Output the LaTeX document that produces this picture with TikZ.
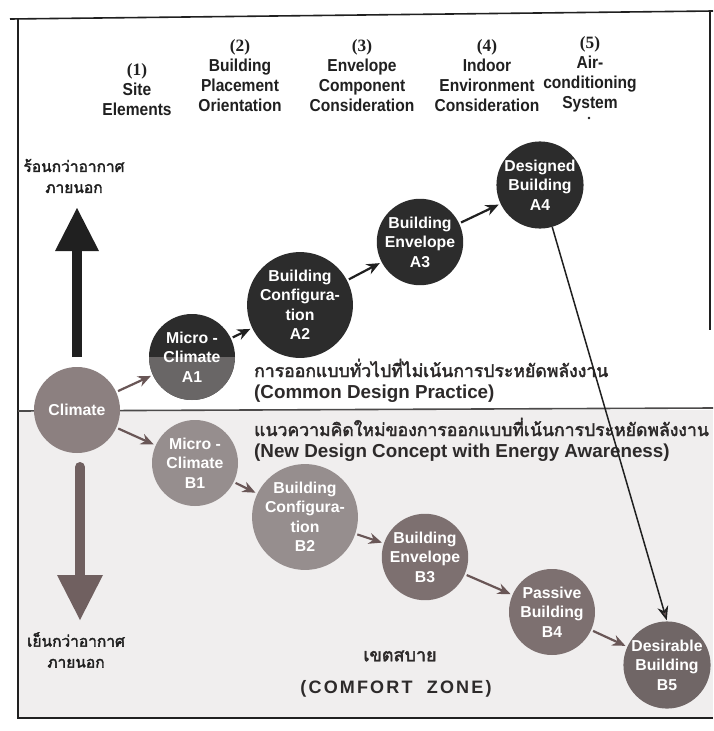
\documentclass[tikz,border=0pt]{standalone}
\usepackage{fontspec}
\setmainfont{Liberation Sans}
\newfontfamily\headfont[FakeStretch=0.9]{Liberation Sans}
\newfontfamily\numfont{Liberation Serif}
\newfontfamily\thaifont[Script=Thai, FakeBold=2.4]{Loma}
\newfontfamily\spacedfont[LetterSpace=12]{Liberation Sans}
\usetikzlibrary{arrows.meta}

\definecolor{inkdark}{RGB}{32,32,32}
\definecolor{ink}{RGB}{45,42,42}
\definecolor{abody}{RGB}{44,44,44}
\definecolor{alow}{RGB}{105,102,102}
\definecolor{climatec}{RGB}{140,128,128}
\definecolor{blight}{RGB}{150,142,142}
\definecolor{bmid}{RGB}{125,112,112}
\definecolor{bdark}{RGB}{112,102,102}
\definecolor{coldarrow}{RGB}{112,96,96}
\definecolor{barrow}{RGB}{105,86,86}
\definecolor{lowbg}{RGB}{240,238,238}

\tikzset{
  hdr/.style={align=center, inner sep=0pt, text=inkdark,
    font=\headfont\bfseries\fontsize{17.3}{20}\selectfont},
  thaitxt/.style={inner sep=0pt, text=ink, font=\thaifont\fontsize{17.6}{22}\selectfont},
  engtxt/.style={inner sep=0pt, text=ink, font=\bfseries\fontsize{18.8}{22}\selectfont},
  sidetxt/.style={align=center, inner sep=0pt, text=inkdark,
    font=\thaifont\fontsize{15.5}{21}\selectfont},
  bubble/.style={circle, minimum size=86pt, inner sep=0pt, align=center,
    text=white, font=\bfseries\fontsize{15.8}{19.5}\selectfont},
  flowA/.style={draw=inkdark, line width=2.2pt, shorten >=2pt, shorten <=2pt,
    -{Stealth[length=13pt,width=11pt]}},
  flowB/.style={draw=barrow, line width=2.2pt, shorten >=2pt, shorten <=2pt,
    -{Stealth[length=13pt,width=11pt]}},
  frame/.style={draw=inkdark, line width=1.6pt},
}

\begin{document}
\begin{tikzpicture}[x=1pt, y=-1pt]
\useasboundingbox (0,0) rectangle (713,731);
\fill[white] (0,0) rectangle (713,731);

% lower (energy-aware) half of the chart
\fill[lowbg] (18,410) rectangle (713,718);

% outer frame
\draw[frame] (10,19) -- (713,11);
\draw[frame] (18,19) -- (18,718) -- (713,718);
\draw[frame] (710,12) -- (710,330);

% dividing line between the two design approaches
\coordinate (divL) at (18,411);
\coordinate (divR) at (713,408);
\draw[draw=ink!85, line width=1.6pt] (divL) -- (divR);

% column headings
\node[hdr] (h1) at (137,90)  {{\numfont (1)}\\Site\\Elements};
\node[hdr] (h2) at (240,76)  {{\numfont (2)}\\Building\\Placement\\Orientation};
\node[hdr] (h3) at (362,76)  {{\numfont (3)}\\Envelope\\Component\\Consideration};
\node[hdr] (h4) at (487,76)  {{\numfont (4)}\\Indoor\\Environment\\Consideration};
\node[hdr] (h5) at (590,74)  {{\numfont (5)}\\Air-\\conditioning\\System};
\fill[inkdark] (589,118) circle (1.3pt);

% warmer / cooler than outdoor air
\node[sidetxt] (hot) at (74,176) {ร้อนกว่าอากาศ\\ภายนอก};
\node[sidetxt] (cold) at (76,650) {เย็นกว่าอากาศ\\ภายนอก};

% thick up arrow (warmer)
\draw[inkdark, line width=10pt] (77,357) -- (77,248);
\fill[inkdark] (55,251) -- (99,251) -- (77,208) -- cycle;

% thick down arrow (cooler)
\draw[coldarrow, line width=10pt, line cap=round] (80,467) -- (80,578);
\fill[coldarrow] (57,575) -- (103,575) -- (80,620) -- cycle;

% approach labels
\node[thaitxt, anchor=west] (tcommon) at (254,368) {การออกแบบทั่วไปที่ไม่เน้นการประหยัดพลังงาน};
\node[engtxt, anchor=west] (ecommon) at (254,394) {(Common Design Practice)};
\node[thaitxt, anchor=west] (tnew) at (254,427) {แนวความคิดใหม่ของการออกแบบที่เน้นการประหยัดพลังงาน};
\node[engtxt, anchor=west] (enew) at (254,453) {(New Design Concept with Energy Awareness)};

% comfort zone
\node[inner sep=0pt, text=ink, font=\thaifont\fontsize{18}{20}\selectfont] (tzone) at (400,656) {เขตสบาย};
\node[inner sep=0pt, text=ink, font=\spacedfont\bfseries\fontsize{18}{20}\selectfont] (ezone) at (396,689) {(COMFORT\ \ ZONE)};

% starting point
\node[bubble, fill=climatec] (Climate) at (77,410) {Climate};

% common design path
\node[bubble, fill=abody,
  path picture={\fill[alow] (path picture bounding box.west) rectangle (path picture bounding box.south east);}]
  (A1) at (192,357) {Micro -\\Climate\\A1};
\node[bubble, fill=abody] (A2) at (300,305) {Building\\Configura-\\tion\\A2};
\node[bubble, fill=abody] (A3) at (420,242) {Building\\Envelope\\A3};
\node[bubble, fill=abody] (A4) at (540,185) {Designed\\Building\\A4};

% energy-aware path
\node[bubble, fill=blight] (B1) at (195,463) {Micro -\\Climate\\B1};
\node[bubble, fill=blight] (B2) at (305,517) {Building\\Configura-\\tion\\B2};
\node[bubble, fill=bmid] (B3) at (425,557) {Building\\Envelope\\B3};
\node[bubble, fill=bmid] (B4) at (552,612) {Passive\\Building\\B4};
\node[bubble, fill=bdark] (B5) at (667,665) {Desirable\\Building\\B5};

% connectors
\draw[flowB] (Climate) -- (A1);
\draw[flowB] (Climate) -- (B1);
\draw[flowA] (A1) -- (A2);
\draw[flowA] (A2) -- (A3);
\draw[flowA] (A3) -- (A4);
\draw[flowB] (B1) -- (B2);
\draw[flowB] (B2) -- (B3);
\draw[flowB] (B3) -- (B4);
\draw[flowB] (B4) -- (B5);
\draw[draw=inkdark, line width=1.5pt, shorten >=1pt,
  -{Stealth[length=14pt,width=11pt,fill=barrow]}] (A4) -- (B5.north);
\end{tikzpicture}
\end{document}
